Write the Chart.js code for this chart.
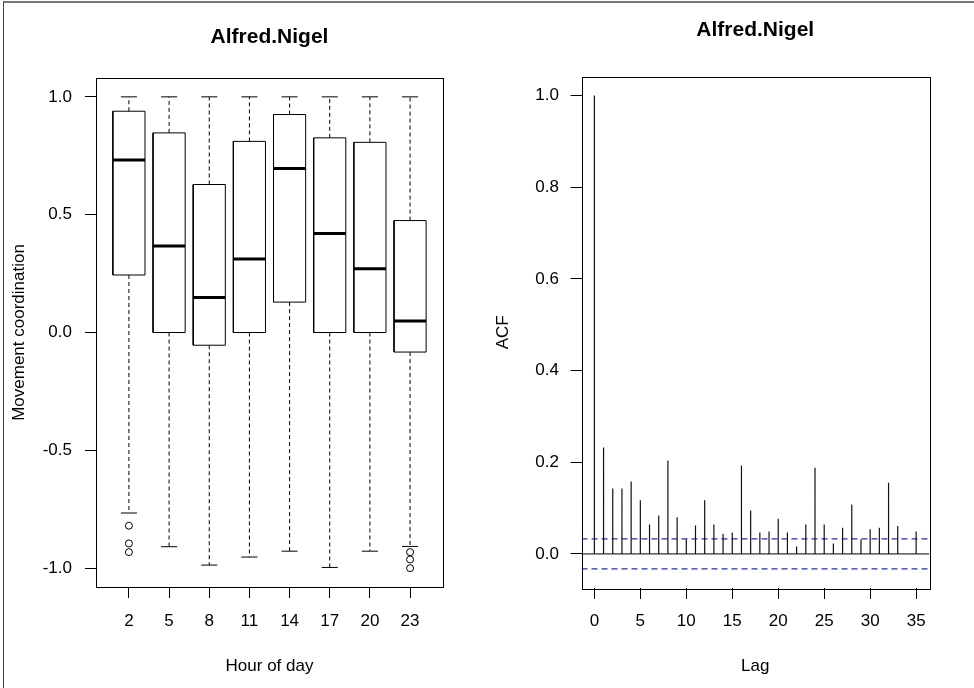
<!DOCTYPE html>
<html>
<head>
<meta charset="utf-8">
<title>Alfred.Nigel</title>
<script src="https://cdn.jsdelivr.net/npm/chart.js@4.4.1/dist/chart.umd.min.js"></script>
<style>
  html, body { margin: 0; padding: 0; background: #fff; }
  #wrap { position: relative; width: 974px; height: 688px; overflow: hidden; }
  #frame { position: absolute; left: 3px; top: 1px; width: 990px; height: 700px;
           border-top: 2px solid #777; border-left: 1px solid #444; }
  canvas { position: absolute; top: 0; }
  #boxChart { left: 0; }
  #acfChart { left: 487px; }
</style>
</head>
<body>
<div id="wrap">
  <div id="frame"></div>
  <canvas id="boxChart" width="487" height="688"></canvas>
  <canvas id="acfChart" width="487" height="688"></canvas>
</div>
<script>
// ---- boxplot: movement coordination by hour of day ----
const hours       = ['2', '5', '8', '11', '14', '17', '20', '23'];
const whiskerLow  = [-0.766, -0.909, -0.987, -0.953, -0.928, -0.997, -0.928, -0.908];
const q1          = [0.244, 0.0, -0.054, 0.0, 0.129, 0.0, 0.0, -0.083];
const medians     = [0.732, 0.367, 0.149, 0.312, 0.696, 0.420, 0.271, 0.049];
const q3          = [0.939, 0.847, 0.628, 0.811, 0.925, 0.826, 0.807, 0.475];
const whiskerHigh = [1.0, 1.0, 1.0, 1.0, 1.0, 1.0, 1.0, 1.0];
const outliers    = [[-0.82, -0.895, -0.932], [], [], [], [], [], [], [-0.932, -0.963, -1.0]];
const boxYTicks   = [-1, -0.5, 0, 0.5, 1];
const boxYLimits  = [-1.08, 1.08];
const boxXLimits  = [0.18, 8.82];

// ---- autocorrelation ----
const lags = [0, 1, 2, 3, 4, 5, 6, 7, 8, 9, 10, 11, 12, 13, 14, 15, 16, 17,
              18, 19, 20, 21, 22, 23, 24, 25, 26, 27, 28, 29, 30, 31, 32, 33, 34, 35];
const acfValues = [1.0, 0.232, 0.1425, 0.1425, 0.158, 0.117, 0.064, 0.084, 0.204, 0.080,
                   0.032, 0.062, 0.117, 0.064, 0.044, 0.047, 0.193, 0.095, 0.047, 0.049,
                   0.077, 0.047, 0.016, 0.064, 0.188, 0.064, 0.023, 0.057, 0.108, 0.032,
                   0.054, 0.057, 0.155, 0.061, 0.0, 0.049];
const ciBound    = 0.0327;
const acfYTicks  = [0, 0.2, 0.4, 0.6, 0.8, 1.0];
const lagTicks   = [0, 5, 10, 15, 20, 25, 30, 35];
const acfYLimits = [-0.0743, 1.0413];
const lagLimits  = [-1.4, 36.4];

const FONT = "'Liberation Sans', Arial, sans-serif";
const labelFont = { family: FONT, size: 17 };
const titleFont = { family: FONT, size: 21, weight: 'bold' };

// R-style frame round the plot region
const plotFrame = {
  id: 'plotFrame',
  afterDraw(chart) {
    const { ctx, chartArea: a } = chart;
    ctx.save();
    ctx.strokeStyle = '#000';
    ctx.lineWidth = 1;
    ctx.strokeRect(Math.round(a.left) + 0.5, Math.round(a.top) + 0.5,
                   Math.round(a.right - a.left), Math.round(a.bottom - a.top));
    ctx.restore();
  }
};

// list of [[x1,y1],[x2,y2]] -> line data with gaps between pieces
function segments(list) {
  const out = [];
  list.forEach(([a, b]) => {
    out.push({ x: a[0], y: a[1] }, { x: b[0], y: b[1] }, { x: b[0], y: null });
  });
  return out;
}

const lineSet = (data, extra) => Object.assign({
  type: 'line', data, borderColor: '#000', borderWidth: 1, pointRadius: 0,
  fill: false, tension: 0, spanGaps: false
}, extra);

function axis(limits, ticks, fmt, titleText, opts) {
  return {
    type: 'linear', min: limits[0], max: limits[1],
    afterBuildTicks: s => { s.ticks = ticks.map(v => ({ value: v })); },
    ticks: { callback: (v, i) => fmt(v, i), font: labelFont, color: '#000',
             padding: opts.pad, autoSkip: false, maxRotation: 0 },
    grid: { drawOnChartArea: false, drawTicks: true, tickLength: 11, color: '#000', tickColor: '#000' },
    border: { display: false },
    title: { display: true, text: titleText, font: labelFont, color: '#000', padding: opts.titlePad },
    afterFit: opts.fit
  };
}

// ---------- left panel ----------
const pos = hours.map((h, i) => i + 1);
const whiskers = [], caps = [], boxes = [], medLines = [], outPts = [];
pos.forEach((x, i) => {
  whiskers.push([[x, q3[i]], [x, whiskerHigh[i]]], [[x, q1[i]], [x, whiskerLow[i]]]);
  caps.push([[x - 0.2, whiskerHigh[i]], [x + 0.2, whiskerHigh[i]]],
            [[x - 0.2, whiskerLow[i]], [x + 0.2, whiskerLow[i]]]);
  boxes.push({ x: x - 0.4, y: q1[i] }, { x: x + 0.4, y: q1[i] }, { x: x + 0.4, y: q3[i] },
             { x: x - 0.4, y: q3[i] }, { x: x - 0.4, y: q1[i] }, { x: x - 0.4, y: null });
  medLines.push([[x - 0.4, medians[i]], [x + 0.4, medians[i]]]);
  outliers[i].forEach(v => outPts.push({ x, y: v }));
});

new Chart(document.getElementById('boxChart'), {
  type: 'line',
  data: {
    datasets: [
      lineSet(segments(whiskers), { borderDash: [4, 3] }),
      lineSet(segments(caps)),
      lineSet(boxes, { borderJoinStyle: 'miter' }),
      lineSet(segments(medLines), { borderWidth: 3 }),
      { type: 'scatter', data: outPts, pointStyle: 'circle', pointRadius: 3.5,
        borderWidth: 1, borderColor: '#000', backgroundColor: 'rgba(0,0,0,0)' }
    ]
  },
  options: {
    responsive: false, animation: false,
    layout: { padding: { left: 0, right: 44, top: 0, bottom: 0 } },
    plugins: {
      legend: { display: false }, tooltip: { enabled: false },
      title: { display: true, text: 'Alfred.Nigel', font: titleFont, color: '#000',
               fullSize: false, padding: { top: 24.4, bottom: 28.4 } }
    },
    scales: {
      x: axis(boxXLimits, pos, (v, i) => hours[i], 'Hour of day',
              { pad: 13, titlePad: { top: 0, bottom: 11 }, fit: s => { s.height = 101; } }),
      y: axis(boxYLimits, boxYTicks, v => Number(v).toFixed(1), 'Movement coordination',
              { pad: 13, titlePad: { top: 9, bottom: 0 }, fit: s => { s.width = 96; } })
    }
  },
  plugins: [plotFrame]
});

// ---------- right panel ----------
const spikes = lags.map((k, i) => [[k, 0], [k, acfValues[i]]]);
new Chart(document.getElementById('acfChart'), {
  type: 'line',
  data: {
    datasets: [
      lineSet(segments(spikes), { borderWidth: 1.2, borderColor: '#111' }),
      lineSet([{ x: lagLimits[0], y: 0 }, { x: lagLimits[1], y: 0 }]),
      lineSet([{ x: lagLimits[0], y: ciBound }, { x: lagLimits[1], y: ciBound }],
              { borderColor: '#2a2ac0', borderWidth: 1.2, borderDash: [6, 4] }),
      lineSet([{ x: lagLimits[0], y: -ciBound }, { x: lagLimits[1], y: -ciBound }],
              { borderColor: '#2a2ac0', borderWidth: 1.2, borderDash: [6, 4] })
    ]
  },
  options: {
    responsive: false, animation: false,
    layout: { padding: { left: 0, right: 45, top: 0, bottom: 0 } },
    plugins: {
      legend: { display: false }, tooltip: { enabled: false },
      title: { display: true, text: 'Alfred.Nigel', font: titleFont, color: '#000',
               fullSize: false, padding: { top: 17.4, bottom: 33.9 } }
    },
    scales: {
      x: axis(lagLimits, lagTicks, v => String(v), 'Lag',
              { pad: 12, titlePad: { top: 0, bottom: 11 }, fit: s => { s.height = 100; } }),
      y: axis(acfYLimits, acfYTicks, v => Number(v).toFixed(1), 'ACF',
              { pad: 11.5, titlePad: { top: 6, bottom: 0 }, fit: s => { s.width = 94.5; } })
    }
  },
  plugins: [plotFrame]
});
</script>
</body>
</html>
